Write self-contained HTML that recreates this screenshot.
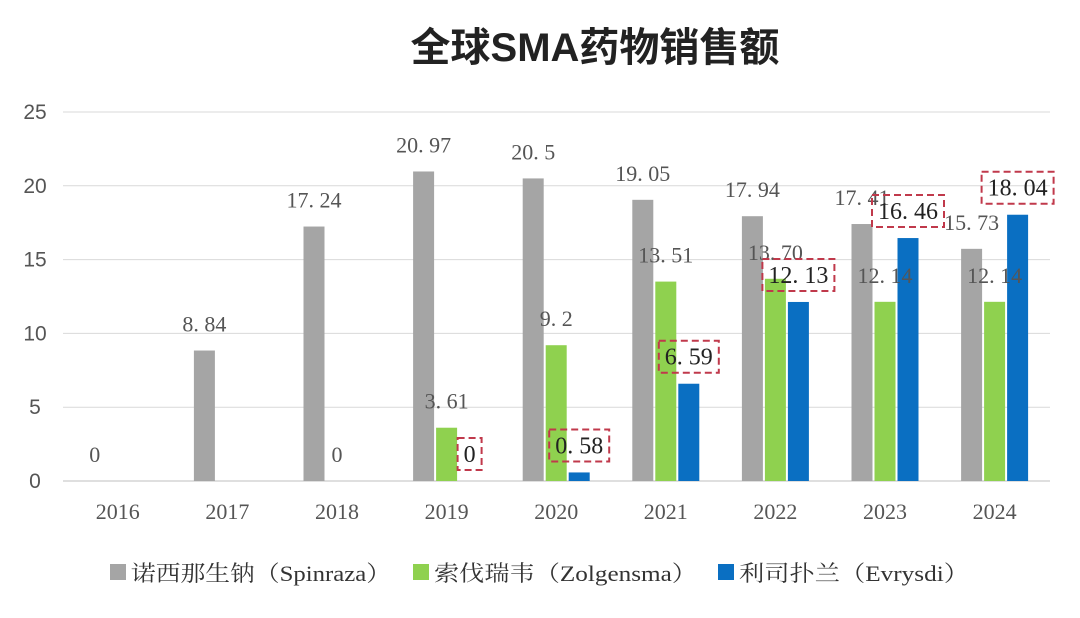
<!DOCTYPE html>
<html><head><meta charset="utf-8"><style>
body{margin:0;background:#fff;width:1080px;height:613px;overflow:hidden}
svg text{font-family:"Liberation Serif","Noto Serif CJK SC",serif}
</style></head><body>
<svg width="1080" height="613" id="chart">
<text x="595" y="61" text-anchor="middle" font-size="40" font-weight="bold" fill="#222" style="font-family:'Liberation Sans','Noto Sans CJK SC',sans-serif">全球SMA药物销售额</text>
<g id="grid"></g><g id="bars"></g><g id="labels"></g>
<g font-size="22" fill="#333">
<rect x="110" y="564" width="16" height="16" fill="#a5a5a5"/>
<text x="131" y="581" textLength="260" lengthAdjust="spacingAndGlyphs">诺西那生钠（Spinraza）</text>
<rect x="413" y="564" width="16" height="16" fill="#8fd14f"/>
<text x="434" y="581" textLength="263" lengthAdjust="spacingAndGlyphs">索伐瑞韦（Zolgensma）</text>
<rect x="718" y="564" width="16" height="16" fill="#0a6fc2"/>
<text x="739" y="581" textLength="230" lengthAdjust="spacingAndGlyphs">利司扑兰（Evrysdi）</text>
</g>
</svg>
<script>
const categories=["2016","2017","2018","2019","2020","2021","2022","2023","2024"];
const spinraza=[0,8.84,17.24,20.97,20.5,19.05,17.94,17.41,15.73];
const zolgensma=[null,null,0,3.61,9.2,13.51,13.70,12.14,12.14];
const evrysdi=[null,null,null,0,0.58,6.59,12.13,16.46,18.04];
const spinrazaLabels=["0","8. 84","17. 24","20. 97","20. 5","19. 05","17. 94","17. 41","15. 73"];
const zolgensmaLabels=[null,null,"0","3. 61","9. 2","13. 51","13. 70","12. 14","12. 14"];
const evrysdiLabels=[null,null,null,"0","0. 58","6. 59","12. 13","16. 46","18. 04"];
const yTicks=[0,5,10,15,20,25];
(function(){
const NS="http://www.w3.org/2000/svg";
const x0=63,step=109.6,base=481,plotTop=112,ymax=25;
const y=v=>base-(base-plotTop)*v/ymax;
const cx=i=>x0+step*(i+0.5);
function mk(t,a,p){const e=document.createElementNS(NS,t);for(const k in a)e.setAttribute(k,a[k]);p.appendChild(e);return e;}
const grid=document.getElementById('grid'),bars=document.getElementById('bars'),labels=document.getElementById('labels');
yTicks.forEach(v=>{
 const l=mk('line',{x1:x0,x2:1050,y1:y(v),y2:y(v),stroke:v===0?'#bfbfbf':'#d9d9d9','stroke-width':1},grid);
 
 
 const t=mk('text',{x:35,y:y(v)+7,'text-anchor':'middle','font-size':21,fill:'#555',style:"font-family:'Liberation Sans',sans-serif"},grid);
 t.textContent=v;
 
 
});
categories.forEach((c,i)=>{
 const t=mk('text',{x:cx(i),y:519,'text-anchor':'middle','font-size':22,fill:'#555'},grid);
 t.textContent=c;
 
 
});
const series=[[spinraza,spinrazaLabels,'#a5a5a5',-23,false,'spinraza'],[zolgensma,zolgensmaLabels,'#8fd14f',0,false,'zolgensma'],[evrysdi,evrysdiLabels,'#0a6fc2',23,true,'evrysdi']];
series.forEach(([vals,labs,col,off,boxed,nm])=>{
 vals.forEach((v,i)=>{
  if(v===null)return;
  const bx=cx(i)+off;
  if(v>0){
   const r=mk('rect',{x:bx-10.5,y:y(v),width:21,height:base-y(v),fill:col},bars);
   
   
  }
  const lab=labs[i];
  if(lab===null)return;
  const ly=y(v)-27;
  const t=mk('text',{x:bx,y:ly+8,'text-anchor':'middle','font-size':boxed?24:22,fill:boxed?'#222':'#555'},labels);
  t.textContent=lab;
  
  
  if(boxed){
   const w=t.getBBox().width+12;
   const b=mk('rect',{x:bx-w/2,y:ly-16,width:w,height:32,fill:'none',stroke:'#c0394b','stroke-width':2,'stroke-dasharray':'7 4'},labels);
   
   
  }
 });
});
})();
</script>
</body></html>
